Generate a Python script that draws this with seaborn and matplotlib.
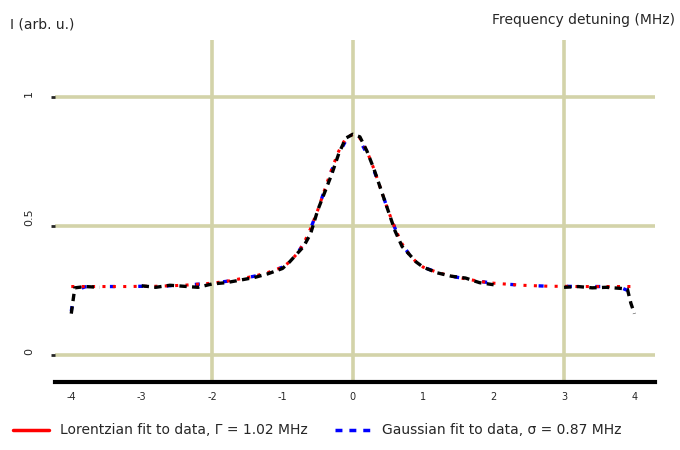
import numpy as np
import pandas as pd
import matplotlib
matplotlib.use("Agg")
import matplotlib.pyplot as plt
import seaborn as sns
from matplotlib.lines import Line2D

# detuning grid and measured / fitted line profiles
detuning = [-4.0, -3.95, -3.8, -3.6, -3.4, -3.2, -3.0, -2.8, -2.6, -2.4, -2.2, -2.0,
            -1.8, -1.6, -1.4, -1.2, -1.0, -0.9, -0.8, -0.7, -0.6, -0.5, -0.4, -0.3,
            -0.2, -0.1, 0.0, 0.1, 0.2, 0.3, 0.4, 0.5, 0.6, 0.7, 0.8, 0.9, 1.0, 1.2,
            1.4, 1.6, 1.8, 2.0, 2.2, 2.4, 2.6, 2.8, 3.0, 3.2, 3.4, 3.6, 3.8, 3.9,
            3.95, 4.0]
measured = [0.16, 0.26, 0.265, 0.262, np.nan, np.nan, 0.268, 0.262, 0.27, 0.266, 0.262, 0.275,
            0.28, 0.29, 0.30, 0.315, 0.335, 0.36, 0.39, 0.42, 0.47, 0.56, 0.63, 0.70,
            0.78, 0.84, 0.855, 0.845, 0.79, 0.72, 0.64, 0.56, 0.48, 0.42, 0.39, 0.36, 0.34, 0.318,
            0.305, 0.298, 0.28, 0.272, np.nan, np.nan, np.nan, np.nan, 0.262, 0.265, 0.26, 0.262, 0.258, 0.255,
            0.20, 0.16]
lorentz_fit = [0.265, 0.265, 0.265, 0.265, 0.265, 0.265, 0.266, 0.266, 0.268, 0.27, 0.274, 0.278,
               0.285, 0.295, 0.305, 0.32, 0.34, 0.36, 0.39, 0.43, 0.49, 0.56, 0.64, 0.72,
               0.79, 0.84, 0.855, 0.84, 0.79, 0.72, 0.64, 0.56, 0.49, 0.43, 0.39, 0.36, 0.34, 0.32,
               0.305, 0.295, 0.285, 0.278, 0.274, 0.27, 0.268, 0.266, 0.266, 0.265, 0.265, 0.265, 0.265, 0.265,
               0.265, 0.265]
gauss_fit = [0.17, 0.25, 0.264, 0.265, 0.265, 0.265, 0.266, 0.266, 0.268, 0.27, 0.274, 0.278,
             0.285, 0.295, 0.305, 0.32, 0.34, 0.36, 0.39, 0.43, 0.49, 0.56, 0.64, 0.715,
             0.78, 0.83, 0.845, 0.83, 0.78, 0.715, 0.64, 0.56, 0.49, 0.43, 0.39, 0.36, 0.34, 0.32,
             0.305, 0.295, 0.285, 0.278, 0.274, 0.27, 0.268, 0.266, 0.266, 0.265, 0.265, 0.265, 0.262, 0.25,
             0.22, 0.19]

x_ticks = [-4, -3, -2, -1, 0, 1, 2, 3, 4]
x_grid = [-2, 0, 3]
y_ticks = [0.0, 0.5, 1.0]
y_labels = ["0", "0.5", "1"]

df = pd.DataFrame({"detuning": detuning, "lorentz": lorentz_fit, "gauss": gauss_fit})

sns.set_theme(style="white")
plt.rcParams['font.family'] = ['DejaVu Sans']

fig = plt.figure(figsize=(6.8, 4.5), dpi=100)
ax = fig.add_axes([0.081, 0.151, 0.882, 0.76])

grid_col = '#d3d3a9'
for g in x_grid:
    ax.axvline(g, color=grid_col, lw=2.6, zorder=0)
for g in y_ticks:
    ax.axhline(g, color=grid_col, lw=2.6, zorder=0)

sns.lineplot(data=df, x="detuning", y="gauss", ax=ax, color='blue', lw=2.4,
             linestyle=(0, (1.5, 7)), estimator=None, sort=False, zorder=2)
sns.lineplot(data=df, x="detuning", y="lorentz", ax=ax, color='red', lw=2.2,
             linestyle=(0, (1, 2.4)), estimator=None, sort=False, zorder=3)
ax.plot(detuning, measured, color='black', lw=2.4, linestyle=(0, (2.2, 1.6)), zorder=4)

ax.set_xlim(-4.23, 4.29)
ax.set_ylim(-0.105, 1.22)
ax.set_xticks(x_ticks)
ax.set_xticklabels([str(v) for v in x_ticks], fontsize=7)
ax.set_yticks(y_ticks)
ax.set_yticklabels(y_labels, fontsize=8, rotation=90, va='bottom')
ax.tick_params(axis='x', length=0, pad=7)
ax.tick_params(axis='y', length=3, width=2, pad=12, left=True)
ax.set_xlabel("")
ax.set_ylabel("")

for s in ['top', 'right', 'left']:
    ax.spines[s].set_visible(False)
ax.spines['bottom'].set_linewidth(3)
ax.spines['bottom'].set_color('black')

fig.text(0.015, 0.945, "I (arb. u.)", fontsize=10, va='center')
fig.text(0.992, 0.955, "Frequency detuning (MHz)", fontsize=10, va='center', ha='right')

handles = [Line2D([], [], color='red', lw=2.5),
           Line2D([], [], color='blue', lw=2.5, linestyle=(0, (2, 2)))]
labels = ["Lorentzian fit to data, Γ = 1.02 MHz", "Gaussian fit to data, σ = 0.87 MHz"]
fig.legend(handles, labels, loc='lower left', bbox_to_anchor=(0.0, 0.0), ncol=2,
           frameon=False, fontsize=10, handlelength=2.6, handletextpad=0.8,
           columnspacing=2.0)

fig.savefig("out.png", dpi=100)
